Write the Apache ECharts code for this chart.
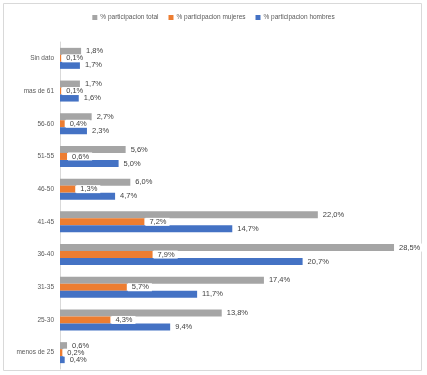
<!DOCTYPE html>
<html>
<head>
<meta charset="utf-8">
<script src="https://cdn.jsdelivr.net/npm/echarts@6/dist/echarts.min.js"></script>
<style>
  html, body { margin: 0; padding: 0; background: #fff; }
  #chart { width: 427px; height: 375px; }
</style>
</head>
<body>
<div id="chart"></div>
<script>
const categories = ['Sin dato', 'mas de 61', '56-60', '51-55', '46-50', '41-45', '36-40', '31-35', '25-30', 'menos de 25']
const total   = [1.8, 1.7, 2.7, 5.6, 6.0, 22.0, 28.5, 17.4, 13.8, 0.6]
const mujeres = [0.1, 0.1, 0.4, 0.6, 1.3, 7.2, 7.9, 5.7, 4.3, 0.2]
const hombres = [1.7, 1.6, 2.3, 5.0, 4.7, 14.7, 20.7, 11.7, 9.4, 0.4]

const fmt = p => p.value.toFixed(1).replace('.', ',') + '%'

const chart = echarts.init(document.getElementById('chart'))

const barSeries = (name, data, color) => ({
  type: 'bar', name, data,
  barWidth: 7, barGap: '0%',
  itemStyle: { color },
  label: {
    show: true, position: 'right', distance: 1,
    formatter: fmt, color: '#404040', fontSize: 7.5,
    fontFamily: 'Liberation Sans',
    backgroundColor: '#fff', padding: [0, 3, 0, 4],
  },
})

chart.setOption({
  animation: false,
  textStyle: { fontFamily: 'Liberation Sans' },
  legend: {
    top: 9, left: 'center',
    itemWidth: 5, itemHeight: 5, itemGap: 10,
    icon: 'rect',
    textStyle: { fontSize: 6.5, color: '#595959', padding: [0, 0, 0, -2] },
  },
  grid: { left: 60, top: 42, width: 351.6, height: 327 },
  xAxis: { type: 'value', min: 0, max: 30, show: false },
  yAxis: {
    type: 'category', data: categories, inverse: true,
    axisLine: { lineStyle: { color: '#d9d9d9' } },
    axisTick: { show: false },
    axisLabel: { fontSize: 6.5, color: '#595959', margin: 6 },
  },
  series: [
    barSeries('% participacion total', total, '#A5A5A5'),
    barSeries('% participacion mujeres', mujeres, '#ED7D31'),
    barSeries('% participacion hombres', hombres, '#4472C4'),
  ],
  graphic: [{
    type: 'rect', silent: true, z: -1,
    shape: { x: 3.5, y: 3.5, width: 418, height: 367 },
    style: { fill: 'none', stroke: '#d9d9d9', lineWidth: 1 },
  }],
})
</script>
</body>
</html>
